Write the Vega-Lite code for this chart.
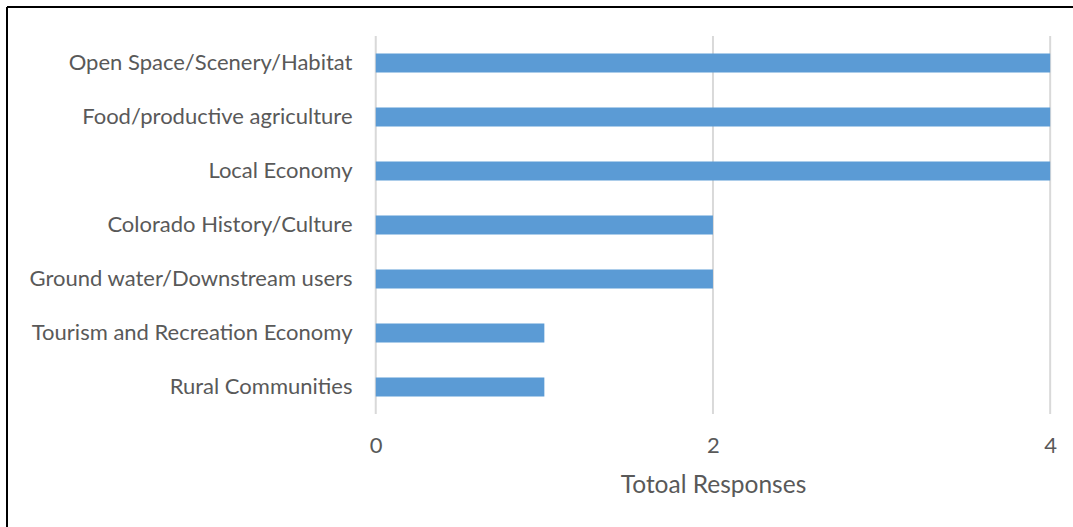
{
  "$schema": "https://vega.github.io/schema/vega-lite/v6.json",
  "width": 1066.5,
  "height": 520.5,
  "autosize": {"type": "none"},
  "padding": {"left": 6.5, "top": 6.5, "right": 0, "bottom": 0},
  "background": "white",
  "config": {"view": {"stroke": null}, "font": "Lato"},
  "datasets": {
    "responses": [
      {"category": "Open Space/Scenery/Habitat", "responses": 4},
      {"category": "Food/productive agriculture", "responses": 4},
      {"category": "Local Economy", "responses": 4},
      {"category": "Colorado History/Culture", "responses": 2},
      {"category": "Ground water/Downstream users", "responses": 2},
      {"category": "Tourism and Recreation Economy", "responses": 1},
      {"category": "Rural Communities", "responses": 1}
    ],
    "grid": [{"value": 0}, {"value": 2}, {"value": 4}]
  },
  "layer": [
    {
      "data": {"name": "grid"},
      "mark": {"type": "rule", "color": "#d9d9d9", "strokeWidth": 2},
      "encoding": {
        "x": {
          "field": "value",
          "type": "quantitative",
          "scale": {"domain": [-2.19, 4.1354], "nice": false, "zero": false},
          "axis": {"orient": "top", "domain": true, "domainColor": "#000000", "domainWidth": 2, "ticks": false, "labels": false, "grid": false, "title": null}
        },
        "y": {
          "datum": 0,
          "type": "quantitative",
          "scale": {"domain": [-0.2989, 1.0781], "nice": false, "zero": false},
          "axis": {"orient": "left", "domain": true, "domainColor": "#000000", "domainWidth": 2, "ticks": false, "labels": false, "grid": false, "title": null}
        },
        "y2": {"datum": 1}
      }
    },
    {
      "data": {"name": "responses"},
      "mark": {"type": "bar", "color": "#5b9bd5"},
      "encoding": {
        "y": {
          "field": "category",
          "type": "nominal",
          "sort": null,
          "scale": {"range": [29.5, 407.5], "paddingInner": 0.6481, "paddingOuter": 0.324},
          "axis": {
            "orient": "left",
            "title": null,
            "ticks": false,
            "tickSize": 0,
            "grid": false,
            "domain": false,
            "labelPadding": -345.5,
            "labelLimit": 600,
            "labelFont": "Lato",
            "labelFontSize": 22,
            "labelColor": "#595959"
          }
        },
        "x": {
          "field": "responses",
          "type": "quantitative",
          "scale": {"domain": [-2.19, 4.1354], "nice": false, "zero": false},
          "axis": {
            "orient": "bottom",
            "values": [0, 2, 4],
            "domain": false,
            "ticks": false,
            "tickSize": 0,
            "grid": false,
            "labelPadding": -74.5,
            "labelBaseline": "alphabetic",
            "labelFlush": false,
            "labelFont": "Lato",
            "labelFontSize": 22,
            "labelColor": "#595959",
            "title": "Totoal Responses",
            "titleX": 706.5,
            "titleY": -34.5,
            "titleAlign": "center",
            "titleBaseline": "alphabetic",
            "titleFont": "Lato",
            "titleFontSize": 24.5,
            "titleFontWeight": "normal",
            "titleColor": "#595959"
          }
        },
        "x2": {"datum": 0}
      }
    }
  ],
  "resolve": {"scale": {"y": "independent"}, "axis": {"x": "independent", "y": "independent"}}
}
